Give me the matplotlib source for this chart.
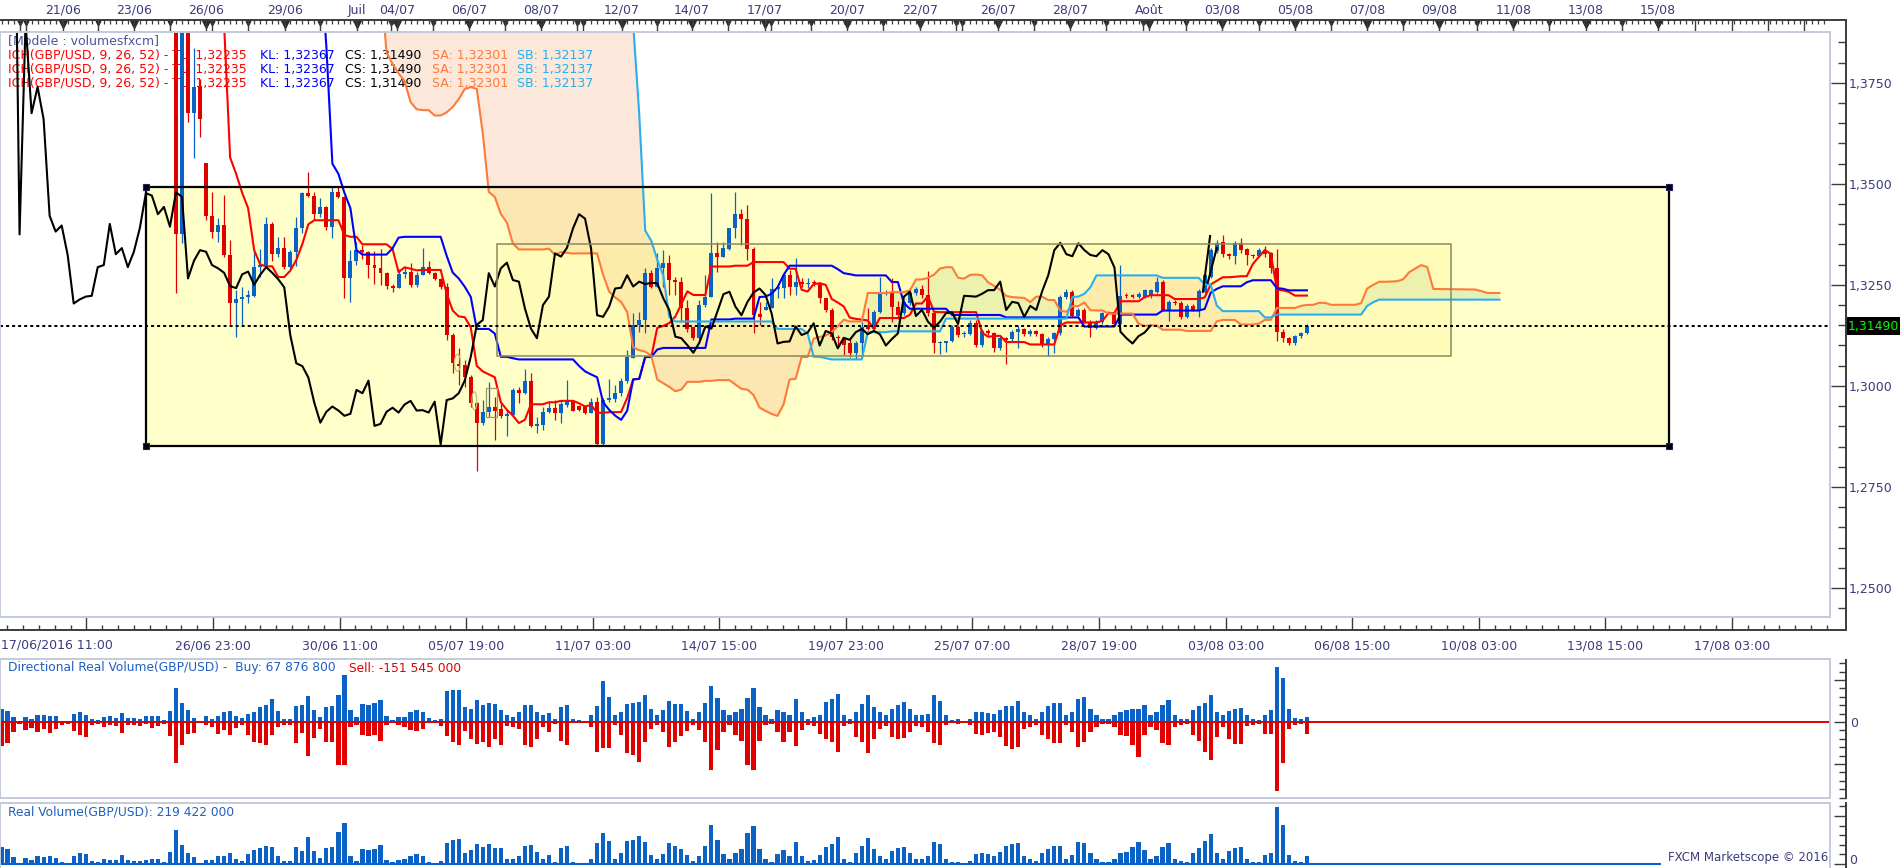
import numpy as np
import pandas as pd
import matplotlib
matplotlib.use("Agg")
import matplotlib.pyplot as plt
import matplotlib.transforms as mtransforms
from matplotlib.patches import Rectangle, Ellipse
from matplotlib.lines import Line2D
from matplotlib.ticker import MultipleLocator

plt.rcParams['font.family'] = ['DejaVu Sans']

# ---- data: GBP/USD 4h candles, 17/06/2016 -> 05/08/2016 ----
open_prices = [
    1.4250, 1.4270, 1.4290, 1.4300, 1.4550, 1.4560, 1.4600, 1.4660, 1.4640, 1.4630,
    1.4640, 1.4620, 1.4600, 1.4690, 1.4680, 1.4660, 1.4680, 1.4700, 1.4720, 1.4660,
    1.4700, 1.4680, 1.4700, 1.4760, 1.4800, 1.4830, 1.4860, 1.4900, 1.4980, 1.4520,
    1.3375, 1.3900, 1.3675, 1.3740, 1.3552, 1.3421, 1.3382, 1.3397, 1.3324, 1.3204,
    1.3214, 1.3221, 1.3223, 1.3294, 1.3299, 1.3401, 1.3326, 1.3341, 1.3294, 1.3332,
    1.3391, 1.3477, 1.3471, 1.3425, 1.3443, 1.3394, 1.3479, 1.3468, 1.3266, 1.3310,
    1.3336, 1.3332, 1.3299, 1.3291, 1.3280, 1.3247, 1.3242, 1.3276, 1.3283, 1.3250,
    1.3275, 1.3294, 1.3280, 1.3264, 1.3246, 1.3126, 1.3054, 1.3052, 1.3021, 1.2958,
    1.2909, 1.2936, 1.2949, 1.2942, 1.2926, 1.2929, 1.2990, 1.2982, 1.3013, 1.2901,
    1.2904, 1.2936, 1.2946, 1.2934, 1.2952, 1.2963, 1.2951, 1.2948, 1.2934, 1.2961,
    1.2855, 1.2965, 1.2967, 1.2982, 1.3011, 1.3068, 1.3151, 1.3163, 1.3279, 1.3246,
    1.3291, 1.3305, 1.3262, 1.3258, 1.3192, 1.3146, 1.3118, 1.3200, 1.3221, 1.3328,
    1.3320, 1.3340, 1.3390, 1.3425, 1.3414, 1.3340, 1.3179, 1.3188, 1.3192, 1.3241,
    1.3243, 1.3274, 1.3246, 1.3258, 1.3252, 1.3255, 1.3254, 1.3217, 1.3188, 1.3122,
    1.3118, 1.3107, 1.3082, 1.3107, 1.3151, 1.3142, 1.3184, 1.3229, 1.3233, 1.3196,
    1.3180, 1.3206, 1.3231, 1.3241, 1.3225, 1.3180, 1.3105, 1.3107, 1.3112, 1.3147,
    1.3129, 1.3129, 1.3155, 1.3100, 1.3136, 1.3130, 1.3093, 1.3119, 1.3116, 1.3133,
    1.3141, 1.3128, 1.3136, 1.3128, 1.3100, 1.3116, 1.3130, 1.3219, 1.3233, 1.3173,
    1.3188, 1.3159, 1.3144, 1.3157, 1.3180, 1.3182, 1.3153, 1.3223, 1.3225, 1.3221,
    1.3220, 1.3222, 1.3233, 1.3258, 1.3188, 1.3208, 1.3206, 1.3171, 1.3198, 1.3188,
    1.3233, 1.3270, 1.3334, 1.3356, 1.3327, 1.3321, 1.3354, 1.3338, 1.3324, 1.3321,
    1.3336, 1.3328, 1.3293, 1.3134, 1.3118, 1.3105, 1.3123, 1.3132,
]
high_prices = [
    1.4290, 1.4320, 1.4340, 1.4360, 1.4580, 1.4620, 1.4680, 1.4700, 1.4680, 1.4660,
    1.4660, 1.4650, 1.4700, 1.4730, 1.4720, 1.4700, 1.4720, 1.4750, 1.4740, 1.4720,
    1.4730, 1.4720, 1.4780, 1.4820, 1.4850, 1.4880, 1.4920, 1.5018, 1.5000, 1.4560,
    1.3980, 1.3930, 1.3836, 1.3759, 1.3552, 1.3481, 1.3415, 1.3472, 1.3360, 1.3237,
    1.3245, 1.3237, 1.3332, 1.3340, 1.3419, 1.3405, 1.3369, 1.3369, 1.3336, 1.3419,
    1.3480, 1.3530, 1.3479, 1.3464, 1.3445, 1.3493, 1.3493, 1.3470, 1.3336, 1.3355,
    1.3348, 1.3334, 1.3334, 1.3340, 1.3282, 1.3252, 1.3290, 1.3294, 1.3305, 1.3282,
    1.3342, 1.3310, 1.3283, 1.3268, 1.3254, 1.3130, 1.3093, 1.3064, 1.3027, 1.2960,
    1.2965, 1.3010, 1.2973, 1.2960, 1.2942, 1.2994, 1.2998, 1.3043, 1.3031, 1.2924,
    1.2948, 1.2961, 1.2965, 1.2965, 1.3015, 1.2965, 1.2953, 1.2952, 1.2970, 1.2973,
    1.2969, 1.3018, 1.3003, 1.3019, 1.3088, 1.3180, 1.3183, 1.3291, 1.3287, 1.3328,
    1.3336, 1.3324, 1.3270, 1.3270, 1.3213, 1.3146, 1.3213, 1.3274, 1.3477, 1.3356,
    1.3356, 1.3390, 1.3481, 1.3439, 1.3448, 1.3344, 1.3208, 1.3208, 1.3266, 1.3250,
    1.3283, 1.3287, 1.3316, 1.3266, 1.3266, 1.3262, 1.3258, 1.3217, 1.3192, 1.3126,
    1.3118, 1.3118, 1.3110, 1.3159, 1.3192, 1.3188, 1.3270, 1.3237, 1.3266, 1.3211,
    1.3212, 1.3236, 1.3246, 1.3250, 1.3285, 1.3184, 1.3112, 1.3112, 1.3150, 1.3150,
    1.3137, 1.3162, 1.3163, 1.3142, 1.3140, 1.3134, 1.3125, 1.3120, 1.3138, 1.3151,
    1.3144, 1.3140, 1.3139, 1.3131, 1.3120, 1.3134, 1.3226, 1.3240, 1.3238, 1.3193,
    1.3192, 1.3162, 1.3163, 1.3184, 1.3186, 1.3185, 1.3299, 1.3229, 1.3228, 1.3232,
    1.3241, 1.3240, 1.3270, 1.3261, 1.3212, 1.3212, 1.3210, 1.3202, 1.3202, 1.3240,
    1.3278, 1.3342, 1.3360, 1.3373, 1.3330, 1.3358, 1.3365, 1.3342, 1.3327, 1.3342,
    1.3347, 1.3332, 1.3338, 1.3140, 1.3120, 1.3125, 1.3134, 1.3152,
]
low_prices = [
    1.4210, 1.4230, 1.4250, 1.4280, 1.4520, 1.4540, 1.4590, 1.4620, 1.4600, 1.4600,
    1.4600, 1.4580, 1.4590, 1.4650, 1.4640, 1.4630, 1.4660, 1.4680, 1.4640, 1.4620,
    1.4650, 1.4660, 1.4690, 1.4740, 1.4760, 1.4800, 1.4840, 1.4880, 1.4350, 1.3229,
    1.3353, 1.3654, 1.3563, 1.3617, 1.3411, 1.3365, 1.3355, 1.3320, 1.3151, 1.3120,
    1.3151, 1.3204, 1.3221, 1.3270, 1.3294, 1.3310, 1.3318, 1.3290, 1.3290, 1.3296,
    1.3378, 1.3468, 1.3410, 1.3418, 1.3385, 1.3365, 1.3466, 1.3217, 1.3208, 1.3300,
    1.3315, 1.3266, 1.3252, 1.3250, 1.3240, 1.3232, 1.3242, 1.3268, 1.3245, 1.3245,
    1.3275, 1.3278, 1.3262, 1.3240, 1.3114, 1.3031, 1.3002, 1.2998, 1.2948, 1.2789,
    1.2904, 1.2924, 1.2866, 1.2920, 1.2876, 1.2924, 1.2957, 1.2980, 1.2899, 1.2883,
    1.2891, 1.2934, 1.2916, 1.2908, 1.2948, 1.2937, 1.2938, 1.2930, 1.2932, 1.2852,
    1.2852, 1.2959, 1.2961, 1.2975, 1.3007, 1.3068, 1.3134, 1.3132, 1.3242, 1.3244,
    1.3246, 1.3225, 1.3225, 1.3159, 1.3134, 1.3114, 1.3114, 1.3196, 1.3221, 1.3282,
    1.3318, 1.3336, 1.3365, 1.3349, 1.3312, 1.3132, 1.3151, 1.3188, 1.3192, 1.3218,
    1.3218, 1.3225, 1.3225, 1.3246, 1.3242, 1.3248, 1.3205, 1.3184, 1.3114, 1.3097,
    1.3077, 1.3072, 1.3066, 1.3082, 1.3138, 1.3138, 1.3180, 1.3225, 1.3159, 1.3165,
    1.3175, 1.3200, 1.3226, 1.3218, 1.3172, 1.3082, 1.3080, 1.3084, 1.3108, 1.3120,
    1.3122, 1.3125, 1.3096, 1.3096, 1.3126, 1.3085, 1.3088, 1.3054, 1.3112, 1.3095,
    1.3124, 1.3124, 1.3124, 1.3097, 1.3074, 1.3082, 1.3126, 1.3215, 1.3170, 1.3168,
    1.3155, 1.3120, 1.3140, 1.3154, 1.3177, 1.3150, 1.3150, 1.3218, 1.3217, 1.3218,
    1.3217, 1.3218, 1.3230, 1.3185, 1.3160, 1.3200, 1.3165, 1.3167, 1.3185, 1.3170,
    1.3230, 1.3266, 1.3330, 1.3320, 1.3315, 1.3302, 1.3330, 1.3300, 1.3317, 1.3318,
    1.3320, 1.3280, 1.3111, 1.3108, 1.3100, 1.3102, 1.3118, 1.3128,
]
close_prices = [
    1.4270, 1.4290, 1.4300, 1.4350, 1.4560, 1.4600, 1.4660, 1.4640, 1.4630, 1.4640,
    1.4620, 1.4600, 1.4690, 1.4680, 1.4660, 1.4680, 1.4700, 1.4720, 1.4660, 1.4700,
    1.4680, 1.4700, 1.4760, 1.4800, 1.4830, 1.4860, 1.4900, 1.4980, 1.4520, 1.3375,
    1.3900, 1.3675, 1.3740, 1.3660, 1.3421, 1.3382, 1.3397, 1.3324, 1.3204, 1.3214,
    1.3221, 1.3223, 1.3294, 1.3299, 1.3401, 1.3326, 1.3341, 1.3294, 1.3332, 1.3391,
    1.3477, 1.3471, 1.3425, 1.3443, 1.3394, 1.3479, 1.3468, 1.3266, 1.3310, 1.3336,
    1.3332, 1.3299, 1.3291, 1.3280, 1.3247, 1.3242, 1.3276, 1.3283, 1.3250, 1.3275,
    1.3294, 1.3280, 1.3264, 1.3244, 1.3126, 1.3056, 1.3049, 1.3021, 1.2958, 1.2909,
    1.2936, 1.2949, 1.2939, 1.2926, 1.2931, 1.2990, 1.2982, 1.3013, 1.2901, 1.2906,
    1.2936, 1.2946, 1.2934, 1.2954, 1.2963, 1.2939, 1.2940, 1.2934, 1.2961, 1.2855,
    1.2965, 1.2969, 1.2982, 1.3013, 1.3072, 1.3151, 1.3163, 1.3279, 1.3246, 1.3291,
    1.3305, 1.3262, 1.3258, 1.3192, 1.3142, 1.3118, 1.3200, 1.3221, 1.3328, 1.3320,
    1.3342, 1.3390, 1.3425, 1.3414, 1.3340, 1.3175, 1.3171, 1.3196, 1.3241, 1.3243,
    1.3274, 1.3246, 1.3258, 1.3252, 1.3255, 1.3254, 1.3217, 1.3188, 1.3122, 1.3118,
    1.3101, 1.3082, 1.3107, 1.3147, 1.3142, 1.3184, 1.3227, 1.3233, 1.3196, 1.3175,
    1.3208, 1.3231, 1.3241, 1.3225, 1.3180, 1.3105, 1.3109, 1.3110, 1.3147, 1.3126,
    1.3132, 1.3155, 1.3100, 1.3136, 1.3130, 1.3093, 1.3119, 1.3114, 1.3133, 1.3141,
    1.3128, 1.3136, 1.3128, 1.3100, 1.3116, 1.3130, 1.3221, 1.3233, 1.3173, 1.3188,
    1.3159, 1.3144, 1.3159, 1.3180, 1.3182, 1.3153, 1.3223, 1.3222, 1.3221, 1.3228,
    1.3237, 1.3237, 1.3258, 1.3188, 1.3208, 1.3205, 1.3171, 1.3198, 1.3188, 1.3235,
    1.3274, 1.3336, 1.3354, 1.3326, 1.3321, 1.3353, 1.3336, 1.3324, 1.3321, 1.3336,
    1.3326, 1.3293, 1.3134, 1.3118, 1.3105, 1.3123, 1.3132, 1.3149,
]

# directional real volume, millions (buy up, sell down)
buy_volume = [
    164, 139, 67, 13, 63, 38, 88, 88, 80, 76, 13, 13, 101, 122, 88, 38, 25, 67, 80, 55,
    113, 55, 46, 42, 76, 76, 76, 21, 139, 428, 235, 147, 55, 4, 71, 42, 76, 126, 139, 71,
    50, 101, 130, 185, 218, 294, 143, 42, 42, 206, 210, 328, 147, 59, 193, 202, 344, 588, 147, 59,
    231, 210, 244, 277, 76, 25, 67, 67, 126, 151, 126, 50, 25, 42, 391, 407, 399, 193, 168, 277,
    214, 235, 223, 147, 84, 67, 126, 210, 214, 126, 84, 109, 34, 185, 214, 42, 25, 8, 84, 206,
    517, 315, 84, 126, 231, 244, 256, 340, 168, 84, 147, 260, 231, 223, 139, 42, 126, 235, 454, 298,
    147, 84, 126, 168, 302, 433, 189, 84, 42, 147, 126, 84, 294, 126, 42, 59, 84, 252, 294, 353,
    84, 42, 126, 231, 340, 189, 126, 84, 168, 214, 256, 168, 84, 84, 105, 340, 269, 84, 25, 34,
    17, 42, 126, 126, 118, 105, 151, 202, 202, 269, 126, 84, 42, 126, 202, 244, 244, 84, 126, 294,
    315, 168, 84, 42, 34, 84, 126, 151, 160, 168, 210, 84, 126, 210, 277, 84, 42, 34, 147, 202,
    244, 340, 126, 84, 139, 160, 172, 84, 34, 25, 84, 151, 693, 559, 168, 50, 42, 68,
]
sell_volume = [
    302, 265, 122, 21, 101, 76, 122, 92, 134, 88, 34, 25, 109, 168, 185, 42, 25, 59, 34, 50,
    134, 42, 34, 50, 25, 71, 50, 25, 181, 512, 294, 151, 143, 8, 34, 59, 151, 105, 168, 76,
    34, 160, 252, 265, 286, 168, 63, 34, 34, 260, 134, 424, 202, 92, 252, 252, 538, 538, 59, 34,
    168, 176, 160, 239, 42, 17, 34, 59, 101, 118, 84, 17, 8, 50, 181, 256, 290, 118, 210, 281,
    256, 311, 218, 294, 50, 59, 92, 294, 311, 210, 59, 126, 25, 244, 290, 17, 8, 8, 59, 374,
    323, 323, 42, 168, 395, 416, 500, 252, 84, 42, 126, 311, 252, 176, 118, 34, 101, 252, 601, 353,
    126, 42, 168, 239, 542, 601, 235, 42, 25, 126, 252, 126, 298, 101, 34, 50, 151, 210, 256, 378,
    50, 25, 189, 252, 386, 210, 84, 50, 185, 218, 197, 126, 50, 59, 126, 269, 290, 42, 17, 25,
    8, 34, 147, 168, 143, 126, 185, 302, 344, 319, 84, 59, 34, 168, 210, 260, 260, 42, 126, 315,
    256, 126, 59, 25, 25, 59, 168, 181, 294, 441, 168, 59, 101, 260, 290, 59, 34, 25, 168, 244,
    382, 479, 189, 59, 210, 281, 281, 50, 34, 25, 151, 151, 865, 512, 84, 34, 25, 152,
]

top_day_labels = ['21/06', '23/06', '26/06', '29/06', 'Juil', '04/07', '06/07', '08/07',
                  '12/07', '14/07', '17/07', '20/07', '22/07', '26/07', '28/07', 'Août',
                  '03/08', '05/08', '07/08', '09/08', '11/08', '13/08', '15/08']
bottom_time_labels = ['', '26/06 23:00', '30/06 11:00', '05/07 19:00', '11/07 03:00',
                      '14/07 15:00', '19/07 23:00', '25/07 07:00', '28/07 19:00',
                      '03/08 03:00', '06/08 15:00', '10/08 03:00', '13/08 15:00', '17/08 03:00']
first_time_label = '17/06/2016 11:00'

legend_parts = [('ICH(GBP/USD, 9, 26, 52) - TL: 1,32235', '#ff0000'),
                ('KL: 1,32367', '#0000ff'), ('CS: 1,31490', '#000000'),
                ('SA: 1,32301', '#ff7a3a'), ('SB: 1,32137', '#29aef0')]
last_price = 1.31490

# drawn objects (bar index, price)
big_box = (24.0, 1.2851, 277.2, 1.3493)
inner_box = (82.4, 1.3074, 241.0, 1.3352)
small_box = (80.5, 1.2922, 82.4, 1.2994)
trend_lines = [((199.7, 1.3233), (200.9, 1.3371)), ((200.5, 1.3255), (202.0, 1.3341))]

# ---- layout ----
W, H = 1903, 868
PT = 0.72  # points per pixel at dpi 100
fig = plt.figure(figsize=(W / 100, H / 100), dpi=100)
fig.patch.set_facecolor('white')
pix = mtransforms.Affine2D().scale(1.0 / W, -1.0 / H).translate(0, 1) + fig.transFigure

PX_PER_BAR = 6.016
X0_PX = 1.5
def u_of(px):
    return (px - X0_PX) / PX_PER_BAR
XLIM = (u_of(0), u_of(1830))

P_REF, Y_REF, P_PER_PX = 1.3149, 325.7, 0.0002475
P_HI = P_REF + (Y_REF - 32) * P_PER_PX
P_LO = P_REF - (617 - Y_REF) * P_PER_PX

BLUE = '#0a62c6'
RED = '#e00000'
AXIS_C = '#3c3c3c'
LABEL_C = '#3b3b7d'
BORDER_C = '#c3cbd8'

# projected cloud: the chart's future time scale opens a gap after this slot
FUTURE_GAP_FROM, FUTURE_GAP = 239, 6

def add_ax(x0, y0, x1, y1):
    return fig.add_axes([x0 / W, 1 - y1 / H, (x1 - x0) / W, (y1 - y0) / H])

def px_line(xs, ys, color=AXIS_C, lw=1.4):
    fig.add_artist(Line2D(xs, ys, transform=pix, color=color, lw=lw))

def in_range(vals):
    return [v for v in vals if XLIM[0] <= v <= XLIM[1]]

# ---- main price panel ----
o = np.array(open_prices); h = np.array(high_prices)
l = np.array(low_prices); c = np.array(close_prices)
n = len(c)
u = np.arange(n)

ax = add_ax(0, 32, 1830, 617)
ax.set_facecolor('white')

hs, ls_ = pd.Series(h), pd.Series(l)
tenkan = ((hs.rolling(9, min_periods=1).max() + ls_.rolling(9, min_periods=1).min()) / 2).values
kijun = ((hs.rolling(26, min_periods=1).max() + ls_.rolling(26, min_periods=1).min()) / 2).values
span_a = (tenkan + kijun) / 2
span_b = ((hs.rolling(52, min_periods=1).max() + ls_.rolling(52, min_periods=1).min()) / 2).values
u_fwd = (u + 26).astype(float)
u_fwd[u_fwd >= FUTURE_GAP_FROM] += FUTURE_GAP

bx0, by0, bx1, by1 = big_box
ax.add_patch(Rectangle((bx0, by0), bx1 - bx0, by1 - by0, facecolor='#ffffc9', edgecolor='none', zorder=1))
ax.fill_between(u_fwd, span_a, span_b, where=span_b >= span_a, interpolate=True,
                color='#f7a373', alpha=0.25, lw=0, zorder=2)
ax.fill_between(u_fwd, span_a, span_b, where=span_a > span_b, interpolate=True,
                color='#a6d69a', alpha=0.32, lw=0, zorder=2)
ix0, iy0, ix1, iy1 = inner_box
ax.add_patch(Rectangle((ix0, iy0), ix1 - ix0, iy1 - iy0, facecolor='#fff59a', alpha=0.35,
                       edgecolor='none', zorder=2.5))
ax.add_patch(Rectangle((ix0, iy0), ix1 - ix0, iy1 - iy0, facecolor='none',
                       edgecolor='#8b8a5c', lw=1.1, zorder=6.5))
sx0, sy0, sx1, sy1 = small_box
ax.add_patch(Rectangle((sx0, sy0), sx1 - sx0, sy1 - sy0, facecolor='none',
                       edgecolor='#9a9a60', lw=0.9, zorder=6.5))
ax.add_patch(Ellipse((75.8, 1.3057), 1.0, 0.0042, facecolor='none', edgecolor='#c8c070', lw=0.9, zorder=6.5))
ax.add_patch(Ellipse((78.6, 1.2963), 0.8, 0.0045, facecolor='none', edgecolor='#c8c070', lw=0.9, zorder=6.5))

# legend text (under candles)
ax.text(8, 41, '[Modele : volumesfxcm]', transform=pix, fontsize=9, color='#4a5698',
        va='center', ha='left', zorder=3)
seg_x = [8, 260, 345, 432, 517]
for row_y in (55, 69, 83):
    for (txt, col), sx in zip(legend_parts, seg_x):
        ax.text(sx, row_y, txt, transform=pix, fontsize=9, color=col, va='center',
                ha='left', zorder=3)

# candles
up = c >= o
cols = np.where(up, BLUE, RED)
ax.vlines(u, l, h, colors=cols, lw=0.9, zorder=5)
body_lo = np.minimum(o, c)
body_h = np.maximum(np.abs(c - o), 0.00028)
ax.bar(u, body_h, bottom=body_lo, width=0.66, color=cols, lw=0, zorder=5)

# ichimoku lines
ax.plot(u, tenkan, color='#ff0000', lw=1.5, zorder=6)
ax.plot(u, kijun, color='#0000ff', lw=1.5, zorder=6)
ax.plot(u_fwd, span_a, color='#ff7a3a', lw=1.5, zorder=6)
ax.plot(u_fwd, span_b, color='#29aef0', lw=1.5, zorder=6)
ax.plot(u[26:] - 26, c[26:], color='black', lw=1.5, zorder=6)
for (xa, ya), (xb, yb) in trend_lines:
    ax.plot([xa, xb], [ya, yb], color='black', lw=1.5, zorder=6)

# box outline and corner handles
ax.add_patch(Rectangle((bx0, by0), bx1 - bx0, by1 - by0, facecolor='none', edgecolor='black',
                       lw=1.6, zorder=7))
ax.plot([bx0, bx1, bx0, bx1], [by0, by0, by1, by1], 's', ms=5, mfc='black', mec='#202060',
        mew=0.8, zorder=8, clip_on=False)

ax.hlines(last_price, XLIM[0], u_of(1828), colors='black', linestyles=(0, (1.5, 1.5)), lw=1.45, zorder=7)

for s in ax.spines.values():
    s.set_visible(False)
ax.spines['right'].set_position(('outward', 16 * PT))
ax.spines['bottom'].set_position(('outward', 13 * PT))
ax.yaxis.tick_right()
pticks = np.arange(1.25, P_HI, 0.025)
ax.set_yticks(pticks)
ax.set_yticklabels([('%.4f' % v).replace('.', ',') for v in pticks])
ax.yaxis.set_minor_locator(MultipleLocator(0.005))
ax.tick_params(axis='y', which='major', direction='in', length=15 * PT, width=1.0, color=AXIS_C,
               labelcolor=LABEL_C, labelsize=9, pad=2)
ax.tick_params(axis='y', which='minor', direction='in', length=8 * PT, width=1.0, color=AXIS_C)

step = 21.04
major_u = 14.12 + step * np.arange(len(bottom_time_labels))
ax.set_xticks(major_u)
ax.set_xticklabels(bottom_time_labels)
ax.set_xticks(in_range(np.arange(14.12 - step, XLIM[1], step / 8)), minor=True)
ax.tick_params(axis='x', which='major', direction='in', length=13 * PT, width=1.0, color=AXIS_C,
               labelcolor=LABEL_C, labelsize=9, pad=7)
ax.tick_params(axis='x', which='minor', direction='in', length=5 * PT, width=1.0, color=AXIS_C)
fig.text(1, 645, first_time_label, transform=pix, fontsize=9, color=LABEL_C, ha='left', va='center')
ax.set_xlim(*XLIM)
ax.set_ylim(P_LO, P_HI)

# top date axis
top_label_u = [10.2, 22.0, 34.0, 47.1, 59.1, 65.7, 77.7, 89.7, 103.1, 114.8, 126.9, 140.5,
               152.7, 165.6, 177.6, 190.8, 202.9, 215.0, 227.0, 239.0, 251.3, 263.4, 275.3]
other_day_u = [3.0, 4.0, 16.0, 28.0, 35.0, 41.0, 53.0, 64.7, 71.7, 83.7, 95.7, 96.7, 109.0,
               120.8, 127.9, 134.5, 146.6, 158.7, 159.7, 171.6, 183.6, 189.8, 196.9, 209.0,
               221.0, 233.0, 245.2, 257.3, 269.3]
future_day_u = [281.5, 287.6, 293.6, 299.6]
axt = ax.twiny()
for s in axt.spines.values():
    s.set_visible(False)
axt.spines['top'].set_position(('outward', 12 * PT))
day_u = top_label_u + other_day_u + future_day_u
day_lab = top_day_labels + [''] * (len(other_day_u) + len(future_day_u))
axt.set_xticks(day_u)
axt.set_xticklabels(day_lab)
axt.set_xticks(in_range(np.arange(0, XLIM[1], 1.0)), minor=True)
axt.tick_params(axis='x', which='major', direction='in', length=12 * PT, width=1.0, color=AXIS_C,
                labelcolor=LABEL_C, labelsize=9, pad=2.5)
axt.tick_params(axis='x', which='minor', direction='in', length=4 * PT, width=0.9, color=AXIS_C)
axt.set_xlim(*XLIM)
tri = mtransforms.blended_transform_factory(ax.transData, pix)
ax.plot(top_label_u, [23.5] * len(top_label_u), 'v', ms=5.2, color='#2a2a2a', transform=tri,
        clip_on=False, zorder=10)
ax.plot(other_day_u, [22.5] * len(other_day_u), 'v', ms=3.4, color='#2a2a2a', transform=tri,
        clip_on=False, zorder=10)
ax.set_xlim(*XLIM)
ax.set_ylim(P_LO, P_HI)

# frame and axis lines
fig.add_artist(Rectangle((0, 32), 1830, 585, transform=pix, facecolor='none', edgecolor=BORDER_C, lw=1.4))
px_line([0, 1846], [20, 20])
px_line([1846, 1846], [20, 630])
px_line([0, 1846], [630, 630])

# last price tag
fig.add_artist(Rectangle((1846, 317), 54, 18, transform=pix, facecolor='black', edgecolor='none'))
fig.text(1848, 326.5, ('%.5f' % last_price).replace('.', ','), transform=pix, fontsize=9,
         color='#00ff00', ha='left', va='center')

# ---- directional real volume panel ----
M_PER_PX_D = 12.6
axd = add_ax(0, 659, 1830, 798)
buy = np.array(buy_volume, float); sell = np.array(sell_volume, float)
axd.bar(u, buy, width=0.7, color=BLUE, lw=0, zorder=2)
axd.bar(u, -sell, width=0.7, color=RED, lw=0, zorder=2)
axd.axhline(0, color=RED, lw=1.4, zorder=3)
for s in axd.spines.values():
    s.set_visible(False)
axd.spines['right'].set_position(('outward', 16 * PT))
axd.set_xticks([])
axd.yaxis.tick_right()
axd.set_yticks([-530, 0, 530])
axd.set_yticklabels(['', '0', ''])
axd.yaxis.set_minor_locator(MultipleLocator(106))
axd.tick_params(axis='y', which='major', direction='in', length=12 * PT, width=1.0, color=AXIS_C,
                labelcolor=LABEL_C, labelsize=9, pad=3)
axd.tick_params(axis='y', which='minor', direction='in', length=7 * PT, width=1.0, color=AXIS_C)
axd.set_xlim(*XLIM)
axd.set_ylim(-(798 - 722) * M_PER_PX_D, (722 - 659) * M_PER_PX_D)
fig.add_artist(Rectangle((0, 659), 1830, 139, transform=pix, facecolor='none', edgecolor=BORDER_C, lw=1.4))
px_line([1846, 1846], [660, 798])
fig.text(8, 668, 'Directional Real Volume(GBP/USD) -  Buy: 67 876 800', transform=pix,
         fontsize=8.8, color='#1f5fc0', ha='left', va='center')
fig.text(349, 668, 'Sell: -151 545 000', transform=pix, fontsize=8.8, color=RED,
         ha='left', va='center')

# ---- real volume panel ----
M_PER_PX_V = 27.4
axv = add_ax(0, 803, 1830, 868)
total = buy + sell
axv.bar(u, total, width=0.7, color=BLUE, lw=0, zorder=2)
axv.plot([XLIM[0], u_of(1660)], [0, 0], color=BLUE, lw=1.5, zorder=3)
for s in axv.spines.values():
    s.set_visible(False)
axv.spines['right'].set_position(('outward', 16 * PT))
axv.set_xticks([])
axv.yaxis.tick_right()
axv.set_yticks([0, 1315])
axv.set_yticklabels(['', ''])
axv.yaxis.set_minor_locator(MultipleLocator(263))
axv.tick_params(axis='y', which='major', direction='in', length=12 * PT, width=1.0, color=AXIS_C,
                labelcolor=LABEL_C, labelsize=9, pad=3)
axv.tick_params(axis='y', which='minor', direction='in', length=7 * PT, width=1.0, color=AXIS_C)
axv.set_xlim(*XLIM)
axv.set_ylim(-(868 - 864) * M_PER_PX_V, (864 - 803) * M_PER_PX_V)
fig.add_artist(Rectangle((0, 803), 1830, 70, transform=pix, facecolor='none', edgecolor=BORDER_C, lw=1.4))
px_line([1846, 1846], [803, 868])
fig.text(1849, 860, '0', transform=pix, fontsize=9, color=LABEL_C, ha='left', va='center')
fig.text(8, 812, 'Real Volume(GBP/USD): 219 422 000', transform=pix, fontsize=8.8,
         color='#1f5fc0', ha='left', va='center')
fig.text(1828, 858, 'FXCM Marketscope © 2016', transform=pix, fontsize=8.5, color=LABEL_C,
         ha='right', va='center')

fig.savefig('out.png', dpi=100, facecolor='white')
